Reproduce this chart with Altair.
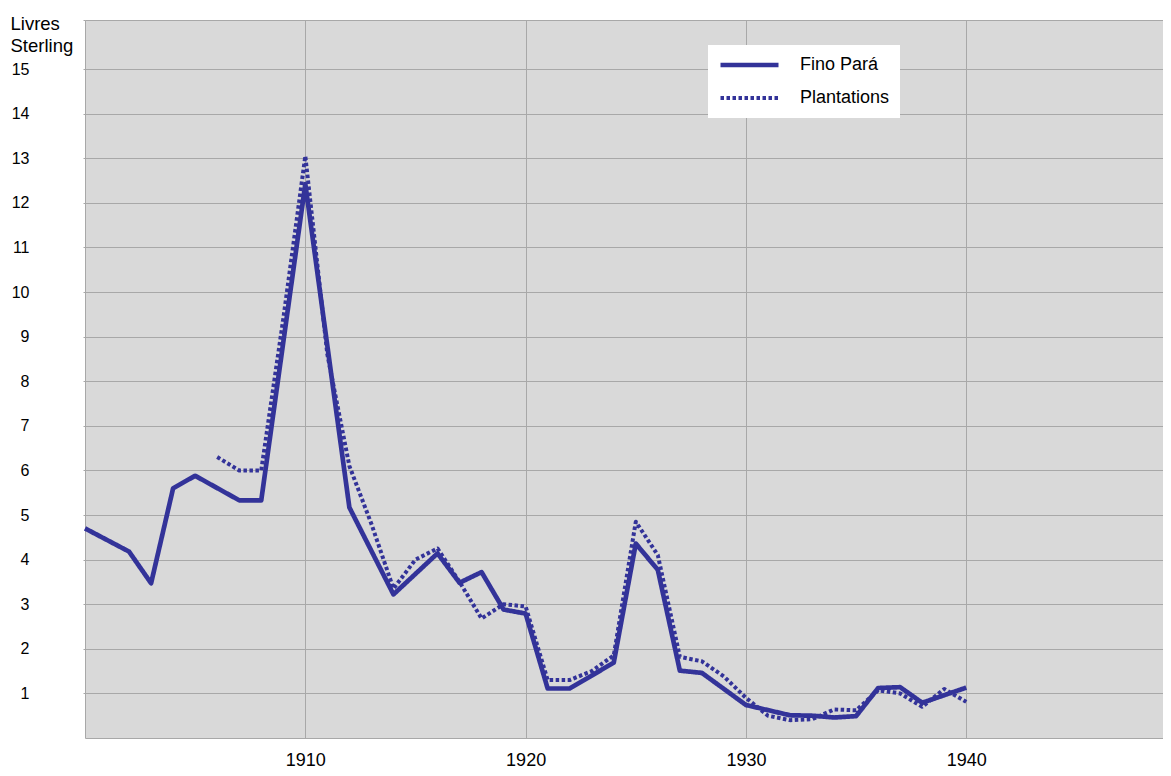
import altair as alt
import pandas as pd

# ---- data ----
fino_years = [1900, 1902, 1903, 1904, 1905, 1907, 1908, 1910, 1912, 1914, 1916,
              1917, 1918, 1919, 1920, 1921, 1922, 1924, 1925, 1926, 1927, 1928,
              1930, 1932, 1933, 1934, 1935, 1936, 1937, 1938, 1940]
fino_values = [4.70, 4.18, 3.47, 5.60, 5.88, 5.33, 5.33, 12.42, 5.17, 3.22, 4.14,
               3.48, 3.72, 2.88, 2.79, 1.11, 1.11, 1.69, 4.36, 3.77, 1.51, 1.46,
               0.74, 0.51, 0.50, 0.46, 0.49, 1.12, 1.14, 0.79, 1.13]

plant_years = list(range(1906, 1941))
plant_values = [6.30, 6.00, 6.00, 9.40, 13.05, 8.60, 6.10, 4.80, 3.35, 4.00,
                4.25, 3.50, 2.68, 3.00, 2.95, 1.30, 1.30, 1.50, 1.85, 4.85,
                4.10, 1.82, 1.72, 1.38, 0.90, 0.50, 0.40, 0.42, 0.64, 0.62,
                1.07, 1.00, 0.70, 1.10, 0.81]

series_names = ["Fino Pará", "Plantations"]
x_ticks = [1910, 1920, 1930, 1940]
y_ticks = list(range(1, 16))
y_title = ["Livres", "Sterling"]

df = pd.concat([
    pd.DataFrame({"year": fino_years, "value": fino_values, "series": series_names[0]}),
    pd.DataFrame({"year": plant_years, "value": plant_values, "series": series_names[1]}),
], ignore_index=True)

LINE = "#333399"
GRID = "#a8a8a8"
FONT = "Liberation Sans"
Y_MAX = 16.1

chart = alt.Chart(df).mark_line(
    color=LINE, strokeJoin="round"
).encode(
    x=alt.X("year:Q",
            scale=alt.Scale(domain=[1900, 1948.93], nice=False, zero=False),
            axis=alt.Axis(values=x_ticks, format="d", title=None, grid=True,
                          ticks=False, tickSize=0, labelPadding=13,
                          labelFontSize=18, domain=True)),
    y=alt.Y("value:Q",
            scale=alt.Scale(domain=[0, Y_MAX], nice=False),
            axis=alt.Axis(values=y_ticks + [Y_MAX], grid=True, ticks=True, tickSize=2,
                          labelExpr="datum.value > 15.5 ? '' : datum.label",
                          labelPadding=54, labelFontSize=16, domain=True,
                          title=y_title, titleAngle=0, titleAlign="left",
                          titleBaseline="top", titleX=-75, titleY=-6,
                          titleFontSize=18.5, titleFontWeight="normal",
                          titleLineHeight=22)),
    strokeDash=alt.StrokeDash(
        "series:N",
        scale=alt.Scale(domain=series_names, range=[[1, 0], [3.5, 2.5]]),
        legend=alt.Legend(title=None, orient="none", legendX=623, legendY=25,
                          fillColor="white", padding=10, symbolType="stroke",
                          symbolSize=3364, symbolStrokeWidth=4.5, clipHeight=20,
                          rowPadding=13, labelOffset=19, labelFontSize=18,
                          labelFont=FONT, labelColor="black")),
    strokeWidth=alt.StrokeWidth(
        "series:N",
        scale=alt.Scale(domain=series_names, range=[4.7, 4.0]),
        legend=None),
).properties(
    width=1078, height=718,
    autosize=alt.AutoSizeParams(type="none"),
    padding={"left": 77, "top": 12, "right": 0, "bottom": 30},
).configure_view(
    fill="#d9d9d9", strokeWidth=0
).configure_axis(
    gridColor=GRID, gridWidth=1, domainColor=GRID, domainWidth=1,
    tickColor=GRID, labelFont=FONT, titleFont=FONT,
    labelColor="black", titleColor="black"
)

chart.save("out.html", embed_options={"renderer": "svg", "actions": False})
